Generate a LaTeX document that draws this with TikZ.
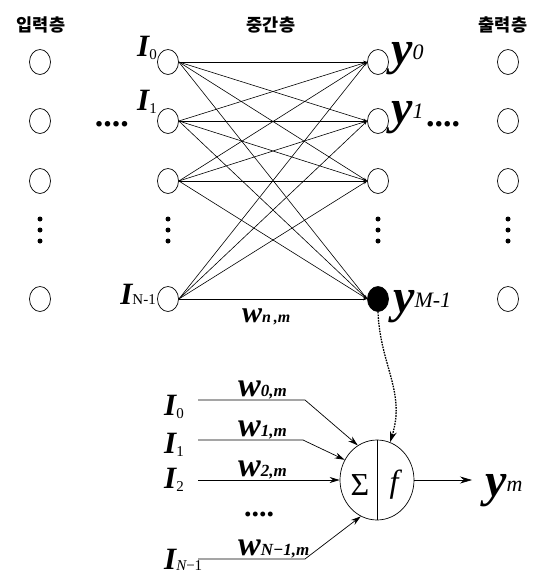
\documentclass[tikz,border=0pt]{standalone}
\usepackage{fontspec}
\setmainfont{Liberation Serif}
\newfontfamily\tnr{Liberation Serif}
\newfontfamily\krfont{Noto Sans CJK KR}
\usetikzlibrary{shapes.geometric,arrows.meta}

% font shortcuts
\newcommand\capI{\tnr\fontsize{31}{31}\selectfont\bfseries\itshape I}
\newcommand\upsub[1]{\tnr\fontsize{15}{15}\selectfont\mdseries\upshape #1}
\newcommand\outy{\tnr\fontsize{48}{48}\selectfont\bfseries\itshape y}
\newcommand\itsub[1]{\tnr\fontsize{22}{22}\selectfont\mdseries\itshape #1}
\newcommand\wgt{\tnr\fontsize{30}{30}\selectfont\bfseries\itshape w}
\newcommand\wsub[1]{\tnr\fontsize{16}{16}\selectfont\bfseries\itshape #1}
\newcommand\wgtb{\tnr\fontsize{34}{34}\selectfont\bfseries\itshape w}
\newcommand\wsubb[1]{\tnr\fontsize{17}{17}\selectfont\bfseries\itshape #1}

\begin{document}
\begin{tikzpicture}[x=1pt,y=-1pt,
  cell/.style={ellipse,draw,line width=0.7pt,minimum width=21pt,minimum height=25pt,inner sep=0pt},
  full/.style={cell,fill=black},
  link/.style={line width=0.6pt,-{Stealth[length=4pt,width=2.6pt]}},
  feed/.style={line width=0.7pt,-{Stealth[length=10pt,width=6pt]}},
  title/.style={font=\krfont\bfseries\fontsize{17.5}{17.5}\selectfont},
  lbl/.style={inner sep=0pt},
  vdot/.style={circle,fill=black,inner sep=0pt,minimum size=5pt},
  hdots/.style={inner sep=0pt,font=\tnr\fontsize{34}{34}\selectfont\bfseries}
]
\useasboundingbox (0,0) rectangle (537,576);

% layer titles
\node[title] (t1) at (41,25) {입력층};
\node[title] (t2) at (271,25) {중간층};
\node[title] (t3) at (503,25) {출력층};

% four columns of units
\foreach \r/\yy in {0/62,1/121,2/181,3/299}{
  \node[cell] (i\r) at (40,\yy) {};
  \node[cell] (h\r) at (168,\yy) {};
  \node[cell] (p\r) at (508,\yy) {};
}
\node[cell] (o0) at (378,62) {};
\node[cell] (o1) at (378,121) {};
\node[cell] (o2) at (378,181) {};
\node[full] (o3) at (378,299) {};

% vertical ellipses
\foreach \xx in {40,168,378,508}
  \foreach \yy in {219,230,241}
    \node[vdot] at (\xx,\yy) {};

% full connections
\foreach \a in {0,...,3}
  \foreach \b in {0,...,3}
    \draw[link] (h\a.east) -- (o\b.west);

% labels of the units
\node[lbl,anchor=base east] (l0) at (157,56) {\capI\raisebox{-3pt}{\upsub{0}}};
\node[lbl,anchor=base east] (l1) at (157,110) {\capI\raisebox{-3pt}{\upsub{1}}};
\node[lbl,anchor=base east] (l3) at (156,304) {\capI\upsub{N-1}};
\node[hdots,anchor=base east] (d1) at (129,126) {....};

\node[lbl,anchor=base west] (y0) at (391,64) {\outy\raisebox{5pt}{\itsub{0}}};
\node[lbl,anchor=base west] (y1) at (391,123) {\outy\raisebox{5pt}{\itsub{1}}};
\node[hdots,anchor=base west] (d2) at (426,126) {....};
\node[lbl,anchor=base west] (y3) at (393,312) {\outy\raisebox{5pt}{\itsub{M-1}}};

\node[lbl,anchor=base west] (wnm) at (242,322) {\wgt\wsub{n\,,m}};

% single neuron
\node[ellipse,draw,line width=0.7pt,minimum width=74pt,minimum height=80pt,inner sep=0pt] (n) at (377,480) {};
\draw[line width=0.7pt] (n.north) -- (n.south);
\node[lbl,font=\tnr\fontsize{32}{32}\selectfont] (sig) at (360,485) {Σ};
\node[lbl,font=\tnr\fontsize{32}{32}\selectfont\itshape] (fn) at (394,485) {f};

% output of the neuron
\node[lbl,anchor=base west] (ym) at (485,496) {\outy\raisebox{5pt}{\itsub{m}}};
\coordinate (ytip) at (472,480);
\draw[line width=0.7pt,-{Stealth[length=12pt,width=7pt]}] (n.east) -- (ytip);

% weighted inputs
\node[lbl,anchor=base west] (J0) at (164,415) {\capI\raisebox{-3pt}{\upsub{0}}};
\node[lbl,anchor=base west] (J1) at (164,453) {\capI\raisebox{-3pt}{\upsub{1}}};
\node[lbl,anchor=base west] (J2) at (164,488) {\capI\raisebox{-3pt}{\upsub{2}}};
\node[lbl,anchor=base west] (J3) at (164,569) {\capI\raisebox{-1pt}{\upsub{\itshape N\upshape−1}}};

\coordinate (a0) at (198,400); \coordinate (b0) at (305,400);
\coordinate (a1) at (198,440); \coordinate (b1) at (303,440);
\coordinate (a2) at (198,480);
\coordinate (a3) at (198,559); \coordinate (b3) at (305,559);

\draw[feed] (a0) -- (b0) -- (n.119);
\draw[feed] (a1) -- (b1) -- (n.148);
\draw[feed] (a2) -- (n.west);
\draw[feed] (a3) -- (b3) -- (n.246);

\node[lbl,anchor=base west] (w0) at (238,396) {\wgtb\wsubb{0,m}};
\node[lbl,anchor=base west] (w1) at (238,436) {\wgtb\wsubb{1,m}};
\node[lbl,anchor=base west] (w2) at (238,476) {\wgtb\wsubb{2,m}};
\node[hdots,font=\tnr\fontsize{30}{30}\selectfont\bfseries,anchor=base] (d3) at (259,516) {....};
\node[lbl,anchor=base west] (w3) at (238,555) {\wgtb\wsubb{N−1,m}};

% feedback of the last hidden unit
\draw[line width=1.3pt,dash pattern=on 1.6pt off 1.1pt,-{Stealth[length=11pt,width=7pt]}]
  (o3.south) .. controls (380,365) and (406,392) .. (n.71);
\end{tikzpicture}
\end{document}
